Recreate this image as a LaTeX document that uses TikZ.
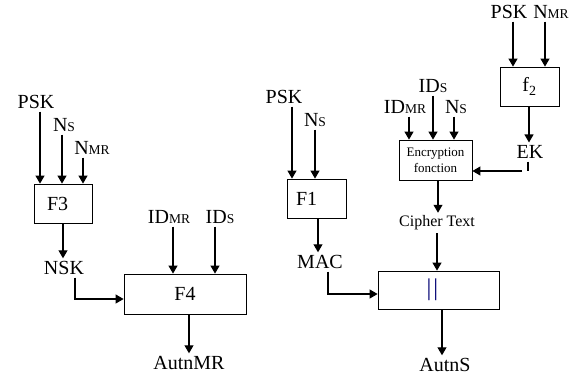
\documentclass[tikz,border=0pt]{standalone}
\usepackage{fontspec}
\setmainfont{Liberation Serif}
\usetikzlibrary{arrows.meta}
\newcommand{\smc}[1]{{\fontsize{13.5}{13.5}\selectfont #1}}
\begin{document}
\begin{tikzpicture}[x=1pt,y=-1pt,
  lbl/.style={inner sep=0pt,outer sep=3pt,font=\fontsize{20}{20}\selectfont},
  box/.style={draw,line width=0.8pt,inner sep=0pt,font=\fontsize{20}{20}\selectfont},
  arr/.style={line width=1.1pt,-{Triangle[width=9pt,length=8pt]}},
  ln/.style={line width=1.1pt}]
\useasboundingbox (0,0) rectangle (583,378);
% ---- F3 group
\node[box,minimum width=58pt,minimum height=39pt,text width=32pt,align=left] (f3) at (63,203.5) {F3};
\node[lbl] (psk3) at (36,102) {PSK};
\node[lbl] (ns3) at (64,125) {N\smc{S}};
\node[lbl] (nmr3) at (92,148) {N\smc{MR}};
\node[lbl] (nsk) at (64,268) {NSK};
\draw[arr] ([xshift=4pt]psk3.south) -- ([xshift=4pt]psk3.south |- f3.north);
\draw[arr] ([xshift=-2pt]ns3.south) -- ([xshift=-2pt]ns3.south |- f3.north);
\draw[arr] ([xshift=-9pt]nmr3.south) -- ([xshift=-9pt]nmr3.south |- f3.north);
\draw[arr] (f3.south) -- (f3.south |- nsk.north);
% ---- F4 group
\node[box,minimum width=122pt,minimum height=40pt] (f4) at (185,294) {F4};
\node[lbl] (idmr4) at (169,217) {ID\smc{MR}};
\node[lbl] (ids4) at (220,217) {ID\smc{S}};
\node[lbl] (autnmr) at (189,363) {AutnMR};
\draw[arr] ([xshift=4pt]idmr4.south) -- ([xshift=4pt]idmr4.south |- f4.north);
\draw[arr] ([xshift=-5pt]ids4.south) -- ([xshift=-5pt]ids4.south |- f4.north);
\draw[arr] ([xshift=4pt]f4.south) -- ([xshift=4pt]f4.south |- autnmr.north);
\draw[arr] ([xshift=11pt]nsk.south) |- (f4.west |- 0,299);
% ---- F1 group
\node[box,minimum width=59pt,minimum height=39pt,text width=41pt,align=left] (f1) at (316.5,198.5) {F1};
\node[lbl] (psk1) at (284,97) {PSK};
\node[lbl] (ns1) at (315,120) {N\smc{S}};
\node[lbl] (mac) at (320,262) {MAC};
\draw[arr] ([xshift=8pt]psk1.south) -- ([xshift=8pt]psk1.south |- f1.north);
\draw[arr] (ns1.south) -- (ns1.south |- f1.north);
\draw[arr] ([xshift=1.5pt]f1.south) -- ([xshift=1.5pt]f1.south |- mac.north);
% ---- concatenation
\node[box,minimum width=121pt,minimum height=38pt,text=blue!45!black,font=\fontsize{24}{24}\selectfont] (cat) at (438.5,290) {\hspace*{-12pt}|\kern2pt|};
\node[lbl] (autns) at (445,365) {AutnS};
\draw[arr] ([xshift=8pt]mac.south) |- (cat.west |- 0,294);
\draw[arr] ([xshift=3.5pt]cat.south) -- ([xshift=3.5pt]cat.south |- autns.north);
% ---- encryption
\node[box,minimum width=73pt,minimum height=40pt,align=center,font=\fontsize{13}{16}\selectfont] (enc) at (435.5,160) {Encryption\\fonction};
\node[lbl] (idse) at (433,86) {ID\smc{S}};
\node[lbl] (idmre) at (405,107) {ID\smc{MR}};
\node[lbl] (nse) at (456,107) {N\smc{S}};
\node[lbl,font=\fontsize{16}{16}\selectfont] (cipher) at (437,223) {Cipher Text};
\draw[arr] (idse.south) -- (idse.south |- enc.north);
\draw[arr] ([xshift=4pt]idmre.south) -- ([xshift=4pt]idmre.south |- enc.north);
\draw[arr] ([xshift=-2pt]nse.south) -- ([xshift=-2pt]nse.south |- enc.north);
\draw[arr] ([xshift=2.5pt]enc.south) -- ([xshift=2.5pt]enc.south |- cipher.north);
\draw[arr] (cipher.south) -- (cipher.south |- cat.north);
% ---- f2
\node[box,minimum width=59pt,minimum height=39pt] (f2) at (529.5,86.5) {f\textsubscript{2}};
\node[lbl] (pskf) at (509,12) {PSK};
\node[lbl] (nmrf) at (551,12) {N\smc{MR}};
\node[lbl] (ek) at (530,152) {EK};
\draw[arr] ([xshift=4pt]pskf.south) -- ([xshift=4pt]pskf.south |- f2.north);
\draw[arr] ([xshift=-6pt]nmrf.south) -- ([xshift=-6pt]nmrf.south |- f2.north);
\draw[arr] ([xshift=-0.5pt]f2.south) -- ([xshift=-0.5pt]f2.south |- ek.north);
\coordinate (ekb) at (528,171);
\coordinate (ekh) at (522,171);
\draw[ln] ([xshift=-2pt]ek.south) -- (ekb);
\draw[arr] (ekh) -- (enc.east |- ekh);
\end{tikzpicture}
\end{document}
